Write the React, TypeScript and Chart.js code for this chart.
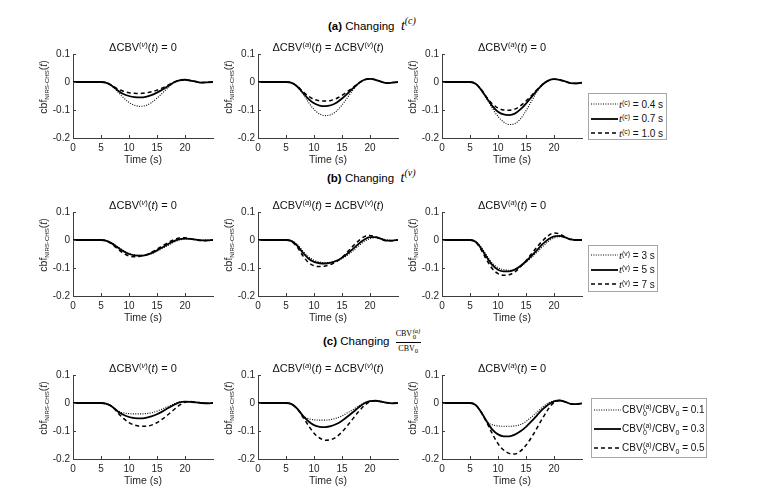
import React, { useEffect, useRef } from 'react';
import { Chart, registerables } from 'chart.js';

Chart.register(...registerables);

// ---------- data ----------
const TIME = [0, 1, 2, 3, 4, 5, 6, 7, 8, 9, 10, 11, 12, 13, 14, 15, 16, 17, 18, 19, 20, 21, 22, 23, 24, 25];
const X_TICKS = [0, 5, 10, 15, 20];
const Y_TICKS = [-0.2, -0.1, 0, 0.1];

// (a) Changing t(c): dotted 0.4 s, solid 0.7 s, dashed 1.0 s
const A1_DOT = [0, 0, 0, 0, 0, 0, -0.003, -0.015, -0.035, -0.056, -0.073, -0.083, -0.087, -0.084, -0.074, -0.058, -0.039, -0.02, -0.003, 0.006, 0.008, 0.005, 0.001, -0.002, -0.001, 0];
const A1_SOL = [0, 0, 0, 0, 0, 0, -0.003, -0.014, -0.03, -0.043, -0.05, -0.054, -0.055, -0.053, -0.047, -0.038, -0.027, -0.014, -0.002, 0.006, 0.008, 0.005, 0.001, -0.002, -0.001, 0];
const A1_DASH = [0, 0, 0, 0, 0, 0, -0.003, -0.013, -0.025, -0.033, -0.038, -0.04, -0.041, -0.039, -0.035, -0.029, -0.021, -0.011, -0.001, 0.006, 0.008, 0.005, 0.001, -0.002, -0.001, 0];

const A2_DOT = [0, 0, 0, 0, 0, 0, -0.003, -0.017, -0.042, -0.072, -0.098, -0.114, -0.12, -0.117, -0.104, -0.082, -0.055, -0.028, -0.005, 0.008, 0.011, 0.008, 0.001, -0.004, -0.002, 0];
const A2_SOL = [0, 0, 0, 0, 0, 0, -0.003, -0.016, -0.038, -0.06, -0.076, -0.084, -0.086, -0.083, -0.074, -0.059, -0.041, -0.022, -0.004, 0.008, 0.011, 0.008, 0.001, -0.004, -0.002, 0];
const A2_DASH = [0, 0, 0, 0, 0, 0, -0.003, -0.015, -0.034, -0.051, -0.062, -0.067, -0.068, -0.066, -0.059, -0.048, -0.034, -0.019, -0.004, 0.008, 0.011, 0.008, 0.001, -0.004, -0.002, 0];

const A3_DOT = [0, 0, 0, 0, 0, 0, -0.006, -0.028, -0.06, -0.094, -0.123, -0.143, -0.152, -0.149, -0.132, -0.103, -0.068, -0.034, -0.009, 0.005, 0.01, 0.008, 0.002, -0.004, -0.005, -0.002];
const A3_SOL = [0, 0, 0, 0, 0, 0, -0.006, -0.028, -0.058, -0.086, -0.106, -0.116, -0.118, -0.113, -0.098, -0.077, -0.053, -0.029, -0.008, 0.005, 0.01, 0.008, 0.002, -0.004, -0.005, -0.002];
const A3_DASH = [0, 0, 0, 0, 0, 0, -0.006, -0.027, -0.055, -0.078, -0.093, -0.1, -0.101, -0.097, -0.085, -0.068, -0.048, -0.027, -0.008, 0.005, 0.01, 0.008, 0.002, -0.004, -0.005, -0.002];

// (b) Changing t(v): dotted 3 s, solid 5 s, dashed 7 s
const B1_DOT = [0, 0, 0, 0, 0, 0, -0.002, -0.011, -0.024, -0.037, -0.047, -0.053, -0.055, -0.054, -0.049, -0.04, -0.03, -0.019, -0.008, 0, 0.003, 0.004, 0.002, 0, 0, 0];
const B1_SOL = [0, 0, 0, 0, 0, 0, -0.003, -0.013, -0.027, -0.04, -0.05, -0.055, -0.056, -0.054, -0.047, -0.037, -0.026, -0.014, -0.004, 0.003, 0.005, 0.004, 0.001, -0.001, -0.001, 0];
const B1_DASH = [0, 0, 0, 0, 0, 0, -0.004, -0.016, -0.032, -0.047, -0.057, -0.06, -0.058, -0.053, -0.044, -0.033, -0.021, -0.009, 0.001, 0.007, 0.008, 0.004, 0, -0.003, -0.002, 0];

const B2_DOT = [0, 0, 0, 0, 0, 0, -0.003, -0.016, -0.039, -0.059, -0.072, -0.079, -0.081, -0.08, -0.075, -0.066, -0.054, -0.038, -0.021, -0.005, 0.005, 0.008, 0.005, 0.001, -0.001, 0];
const B2_SOL = [0, 0, 0, 0, 0, 0, -0.004, -0.02, -0.045, -0.066, -0.078, -0.083, -0.084, -0.081, -0.074, -0.063, -0.048, -0.031, -0.013, 0.002, 0.01, 0.01, 0.004, -0.002, -0.002, 0];
const B2_DASH = [0, 0, 0, 0, 0, 0, -0.006, -0.025, -0.056, -0.08, -0.092, -0.095, -0.093, -0.087, -0.078, -0.062, -0.042, -0.021, -0.002, 0.012, 0.016, 0.011, 0.003, -0.003, -0.003, 0];

const B3_DOT = [0, 0, 0, 0, 0, 0, -0.005, -0.026, -0.056, -0.083, -0.099, -0.106, -0.108, -0.105, -0.095, -0.08, -0.062, -0.043, -0.023, -0.005, 0.007, 0.012, 0.01, 0.004, 0.001, 0];
const B3_SOL = [0, 0, 0, 0, 0, 0, -0.006, -0.03, -0.062, -0.09, -0.106, -0.112, -0.112, -0.106, -0.093, -0.076, -0.056, -0.035, -0.014, 0.003, 0.013, 0.015, 0.009, 0.002, 0, 0];
const B3_DASH = [0, 0, 0, 0, 0, 0, -0.008, -0.035, -0.072, -0.103, -0.12, -0.126, -0.124, -0.114, -0.096, -0.074, -0.049, -0.024, -0.002, 0.016, 0.025, 0.022, 0.01, 0.001, -0.001, 0];

// (c) Changing CBV0(a)/CBV0: dotted 0.1, solid 0.3, dashed 0.5
const C1_DOT = [0, 0, 0, 0, 0, 0, -0.003, -0.013, -0.028, -0.035, -0.038, -0.039, -0.039, -0.038, -0.035, -0.029, -0.021, -0.012, -0.003, 0.003, 0.005, 0.004, 0.002, 0, -0.001, 0];
const C1_SOL = [0, 0, 0, 0, 0, 0, -0.003, -0.013, -0.03, -0.042, -0.05, -0.054, -0.055, -0.053, -0.048, -0.04, -0.03, -0.018, -0.007, 0.002, 0.005, 0.004, 0.002, 0, -0.001, 0];
const C1_DASH = [0, 0, 0, 0, 0, 0, -0.003, -0.013, -0.035, -0.055, -0.07, -0.079, -0.083, -0.083, -0.079, -0.07, -0.057, -0.041, -0.024, -0.008, 0.003, 0.005, 0.003, 0, -0.001, 0];

const C2_DOT = [0, 0, 0, 0, 0, 0, -0.004, -0.02, -0.045, -0.056, -0.06, -0.061, -0.061, -0.059, -0.054, -0.046, -0.035, -0.023, -0.01, 0.001, 0.007, 0.008, 0.005, 0.001, -0.001, 0];
const C2_SOL = [0, 0, 0, 0, 0, 0, -0.004, -0.02, -0.045, -0.065, -0.079, -0.085, -0.086, -0.083, -0.075, -0.063, -0.048, -0.032, -0.015, -0.001, 0.007, 0.008, 0.005, 0.001, -0.001, 0];
const C2_DASH = [0, 0, 0, 0, 0, 0, -0.004, -0.02, -0.05, -0.08, -0.108, -0.125, -0.133, -0.131, -0.121, -0.103, -0.08, -0.055, -0.03, -0.009, 0.005, 0.008, 0.005, 0.001, -0.001, 0];

const C3_DOT = [0, 0, 0, 0, 0, 0, -0.007, -0.033, -0.066, -0.078, -0.082, -0.083, -0.083, -0.082, -0.077, -0.066, -0.05, -0.032, -0.014, 0, 0.007, 0.009, 0.004, -0.003, -0.004, -0.001];
const C3_SOL = [0, 0, 0, 0, 0, 0, -0.007, -0.033, -0.066, -0.095, -0.112, -0.119, -0.119, -0.113, -0.101, -0.085, -0.065, -0.043, -0.022, -0.005, 0.006, 0.009, 0.004, -0.003, -0.004, -0.001];
const C3_DASH = [0, 0, 0, 0, 0, 0, -0.007, -0.033, -0.07, -0.11, -0.145, -0.168, -0.18, -0.182, -0.172, -0.151, -0.122, -0.088, -0.053, -0.021, 0.002, 0.009, 0.004, -0.003, -0.004, -0.001];

const LEGEND_A = ['0.4 s', '0.7 s', '1.0 s'];
const LEGEND_B = ['3 s', '5 s', '7 s'];
const LEGEND_C = ['0.1', '0.3', '0.5'];

// ---------- styling ----------
const FONT = "'Liberation Sans', Arial, sans-serif";
const SERIF = "'Liberation Serif', 'DejaVu Serif', serif";
const AXIS_COLOR = '#3c3c3c';
const TEXT_COLOR = '#262626';
const LINE_STYLES = [
  { dash: [1, 1.4], width: 1.1 },
  { dash: [], width: 1.8 },
  { dash: [4, 3], width: 1.5 },
];
const PLOT_W = 140;
const PLOT_H = 85;
const PAD_L = 30;
const PAD_T = 8;
const PAD_R = 8;
const PAD_B = 32;
const CW = PAD_L + PLOT_W + PAD_R;
const CH = PAD_T + PLOT_H + PAD_B;

const COL_LEFT = [73, 258, 442];
const ROW_TOP = [53, 211, 374];

const inwardTicks = {
  id: 'inwardTicks',
  afterDraw(chart: any) {
    const { ctx, chartArea, scales } = chart;
    ctx.save();
    ctx.strokeStyle = AXIS_COLOR;
    ctx.lineWidth = 1;
    scales.x.ticks.forEach((t: any) => {
      const px = Math.round(scales.x.getPixelForValue(t.value)) + 0.5;
      ctx.beginPath();
      ctx.moveTo(px, chartArea.bottom);
      ctx.lineTo(px, chartArea.bottom - 3);
      ctx.stroke();
    });
    scales.y.ticks.forEach((t: any) => {
      const py = Math.round(scales.y.getPixelForValue(t.value)) + 0.5;
      ctx.beginPath();
      ctx.moveTo(chartArea.left, py);
      ctx.lineTo(chartArea.left + 3, py);
      ctx.stroke();
    });
    ctx.restore();
  },
};

function Plot({ left, top, series }: { left: number; top: number; series: number[][] }) {
  const ref = useRef<HTMLCanvasElement | null>(null);
  useEffect(() => {
    if (!ref.current) return;
    const chart = new Chart(ref.current, {
      type: 'line',
      data: {
        datasets: series.map((vals, k) => ({
          data: TIME.map((t, i) => ({ x: t, y: vals[i] })),
          borderColor: '#000',
          borderWidth: LINE_STYLES[k].width,
          borderDash: LINE_STYLES[k].dash,
          pointRadius: 0,
          fill: false,
          cubicInterpolationMode: 'monotone' as const,
        })),
      },
      options: {
        animation: false,
        responsive: false,
        devicePixelRatio: 1,
        layout: { padding: { top: PAD_T, right: PAD_R, left: 0, bottom: 0 } },
        plugins: { legend: { display: false }, tooltip: { enabled: false } },
        scales: {
          x: {
            type: 'linear',
            min: 0,
            max: 25,
            afterBuildTicks: (s: any) => { s.ticks = X_TICKS.map((v) => ({ value: v })); },
            afterFit: (s: any) => { s.height = PAD_B; },
            grid: { display: true, drawOnChartArea: false, drawTicks: false },
            border: { display: true, color: AXIS_COLOR, width: 1 },
            ticks: { padding: 4, color: TEXT_COLOR, font: { family: FONT, size: 10 }, maxRotation: 0, callback: (v: any) => String(v) },
            title: { display: true, text: 'Time (s)', color: TEXT_COLOR, font: { family: FONT, size: 10.5 }, padding: { top: 0, bottom: 4 } },
          },
          y: {
            type: 'linear',
            min: -0.2,
            max: 0.1,
            afterBuildTicks: (s: any) => { s.ticks = Y_TICKS.map((v) => ({ value: v })); },
            afterFit: (s: any) => { s.width = PAD_L; },
            grid: { display: true, drawOnChartArea: false, drawTicks: false },
            border: { display: true, color: AXIS_COLOR, width: 1 },
            ticks: {
              padding: 3,
              color: TEXT_COLOR,
              font: { family: FONT, size: 10 },
              callback: (v: any) => { const r = Math.round(Number(v) * 10) / 10; return r === 0 ? '0' : String(r); },
            },
          },
        },
      },
      plugins: [inwardTicks],
    } as any);
    return () => chart.destroy();
  }, []);
  return (
    <canvas
      ref={ref}
      width={CW}
      height={CH}
      style={{ position: 'absolute', left: left - PAD_L, top: top - PAD_T, width: CW, height: CH }}
    />
  );
}

const Sup = ({ children }: any) => (
  <sup style={{ fontSize: '0.68em', verticalAlign: '0.5em', lineHeight: 0 }}>{children}</sup>
);
const It = ({ children }: any) => <span style={{ fontStyle: 'italic' }}>{children}</span>;

const titleCol1 = <>ΔCBV<Sup>(<It>v</It>)</Sup>(<It>t</It>) = 0</>;
const titleCol2 = <>ΔCBV<Sup>(<It>a</It>)</Sup>(<It>t</It>) = ΔCBV<Sup>(<It>v</It>)</Sup>(<It>t</It>)</>;
const titleCol3 = <>ΔCBV<Sup>(<It>a</It>)</Sup>(<It>t</It>) = 0</>;
const SUB_TITLES = [titleCol1, titleCol2, titleCol3];

function Centered({ x, y, children, style }: any) {
  return (
    <div
      style={{
        position: 'absolute',
        left: x,
        top: y,
        transform: 'translate(-50%, -50%)',
        whiteSpace: 'nowrap',
        lineHeight: 1,
        ...style,
      }}
    >
      {children}
    </div>
  );
}

function YLabel({ x, y }: { x: number; y: number }) {
  return (
    <div
      style={{
        position: 'absolute',
        left: x,
        top: y,
        transform: 'translate(-50%, -50%) rotate(-90deg)',
        whiteSpace: 'nowrap',
        lineHeight: 1,
        fontSize: 10.5,
        color: TEXT_COLOR,
      }}
    >
      cbf<sub style={{ fontSize: '0.58em', verticalAlign: '-0.35em', lineHeight: 0 }}>NIRS-CHS</sub>(<It>t</It>)
    </div>
  );
}

function Row({ r, series }: { r: number; series: number[][][] }) {
  const top = ROW_TOP[r];
  return (
    <>
      {COL_LEFT.map((left, c) => (
        <React.Fragment key={c}>
          <Plot left={left} top={top} series={series[c]} />
          <Centered x={left + PLOT_W / 2} y={top - 6.5} style={{ fontSize: 11, color: '#111' }}>
            {SUB_TITLES[c]}
          </Centered>
          <YLabel x={left - 30} y={top + PLOT_H / 2 - 8.5} />
        </React.Fragment>
      ))}
    </>
  );
}

function LineSample({ k }: { k: number }) {
  const s = LINE_STYLES[k];
  return (
    <svg width={27} height={6} style={{ display: 'block', flex: 'none' }}>
      <line
        x1={0}
        y1={3}
        x2={27}
        y2={3}
        stroke="#000"
        strokeWidth={s.width}
        strokeDasharray={s.dash.length ? s.dash.join(',') : undefined}
      />
    </svg>
  );
}

function Legend({ left, top, width, height, rowH, padTop, labels }: any) {
  return (
    <div
      style={{
        position: 'absolute',
        left,
        top,
        width,
        height,
        boxSizing: 'border-box',
        border: '1px solid #a6a6a6',
        background: '#fff',
        paddingTop: padTop,
        paddingLeft: 2,
      }}
    >
      {labels.map((lab: any, k: number) => (
        <div key={k} style={{ height: rowH, display: 'flex', alignItems: 'center', gap: 1, fontSize: 10, color: '#111', whiteSpace: 'nowrap', lineHeight: 1 }}>
          <LineSample k={k} />
          <span>{lab}</span>
        </div>
      ))}
    </div>
  );
}

const Stack = ({ top, bottom, size }: any) => (
  <span
    style={{
      display: 'inline-flex',
      flexDirection: 'column',
      alignItems: 'flex-start',
      fontSize: size,
      lineHeight: 1,
      verticalAlign: 'middle',
      margin: '0 0.5px',
    }}
  >
    <span>{top}</span>
    <span>{bottom}</span>
  </span>
);

const tLabel = (sup: string, val: string) => (
  <>
    <span style={{ fontFamily: SERIF, fontStyle: 'italic', fontSize: 11 }}>t</span>
    <Sup>({sup})</Sup> = {val}
  </>
);

const ratioLabel = (val: string) => (
  <>
    CBV<Stack top="(a)" bottom="0" size={7} />/CBV<sub style={{ fontSize: 7, verticalAlign: '-0.45em', lineHeight: 0 }}>0</sub> = {val}
  </>
);

export default function App() {
  return (
    <div
      style={{
        position: 'absolute',
        left: 0,
        top: 0,
        width: 757,
        height: 502,
        background: '#fff',
        fontFamily: FONT,
        overflow: 'hidden',
      }}
    >
      {/* main titles */}
      <div style={{ position: 'absolute', left: 328, top: 19, fontSize: 11.5, whiteSpace: 'nowrap', color: '#000', lineHeight: 1 }}>
        <b>(a)</b> Changing&nbsp;&nbsp;<span style={{ fontFamily: SERIF, fontStyle: 'italic', fontSize: 14 }}>t</span>
        <sup style={{ fontFamily: SERIF, fontStyle: 'italic', fontSize: 10, verticalAlign: '0.6em', lineHeight: 0 }}>(c)</sup>
      </div>
      <div style={{ position: 'absolute', left: 327, top: 171, fontSize: 11.5, whiteSpace: 'nowrap', color: '#000', lineHeight: 1 }}>
        <b>(b)</b> Changing&nbsp;&nbsp;<span style={{ fontFamily: SERIF, fontStyle: 'italic', fontSize: 14 }}>t</span>
        <sup style={{ fontFamily: SERIF, fontStyle: 'italic', fontSize: 10, verticalAlign: '0.6em', lineHeight: 0 }}>(v)</sup>
      </div>
      <div style={{ position: 'absolute', left: 323, top: 326, height: 28, display: 'flex', alignItems: 'center', fontSize: 11.5, whiteSpace: 'nowrap', color: '#000', lineHeight: 1 }}>
        <span style={{ marginTop: 4 }}><b>(c)</b> Changing&nbsp;</span>
        <span style={{ display: 'inline-flex', flexDirection: 'column', alignItems: 'center', fontFamily: SERIF, fontSize: 8, marginLeft: 3 }}>
          <span style={{ paddingBottom: 1, display: 'flex', alignItems: 'center' }}>
            CBV<Stack top={<It>(a)</It>} bottom="0" size={6.5} />
          </span>
          <span style={{ borderTop: '0.8px solid #000', paddingTop: 2, width: '100%', textAlign: 'center' }}>
            CBV<sub style={{ fontSize: 6.5, verticalAlign: '-0.3em', lineHeight: 0 }}>0</sub>
          </span>
        </span>
      </div>

      <Row r={0} series={[[A1_DOT, A1_SOL, A1_DASH], [A2_DOT, A2_SOL, A2_DASH], [A3_DOT, A3_SOL, A3_DASH]]} />
      <Row r={1} series={[[B1_DOT, B1_SOL, B1_DASH], [B2_DOT, B2_SOL, B2_DASH], [B3_DOT, B3_SOL, B3_DASH]]} />
      <Row r={2} series={[[C1_DOT, C1_SOL, C1_DASH], [C2_DOT, C2_SOL, C2_DASH], [C3_DOT, C3_SOL, C3_DASH]]} />

      <Legend left={588} top={93} width={79} height={47} rowH={14.5} padTop={3} labels={LEGEND_A.map((v) => tLabel('c', v))} />
      <Legend left={588} top={245} width={70} height={47} rowH={14.5} padTop={2} labels={LEGEND_B.map((v) => tLabel('v', v))} />
      <Legend left={591} top={398} width={116} height={60} rowH={19} padTop={1} labels={LEGEND_C.map((v) => ratioLabel(v))} />
    </div>
  );
}
